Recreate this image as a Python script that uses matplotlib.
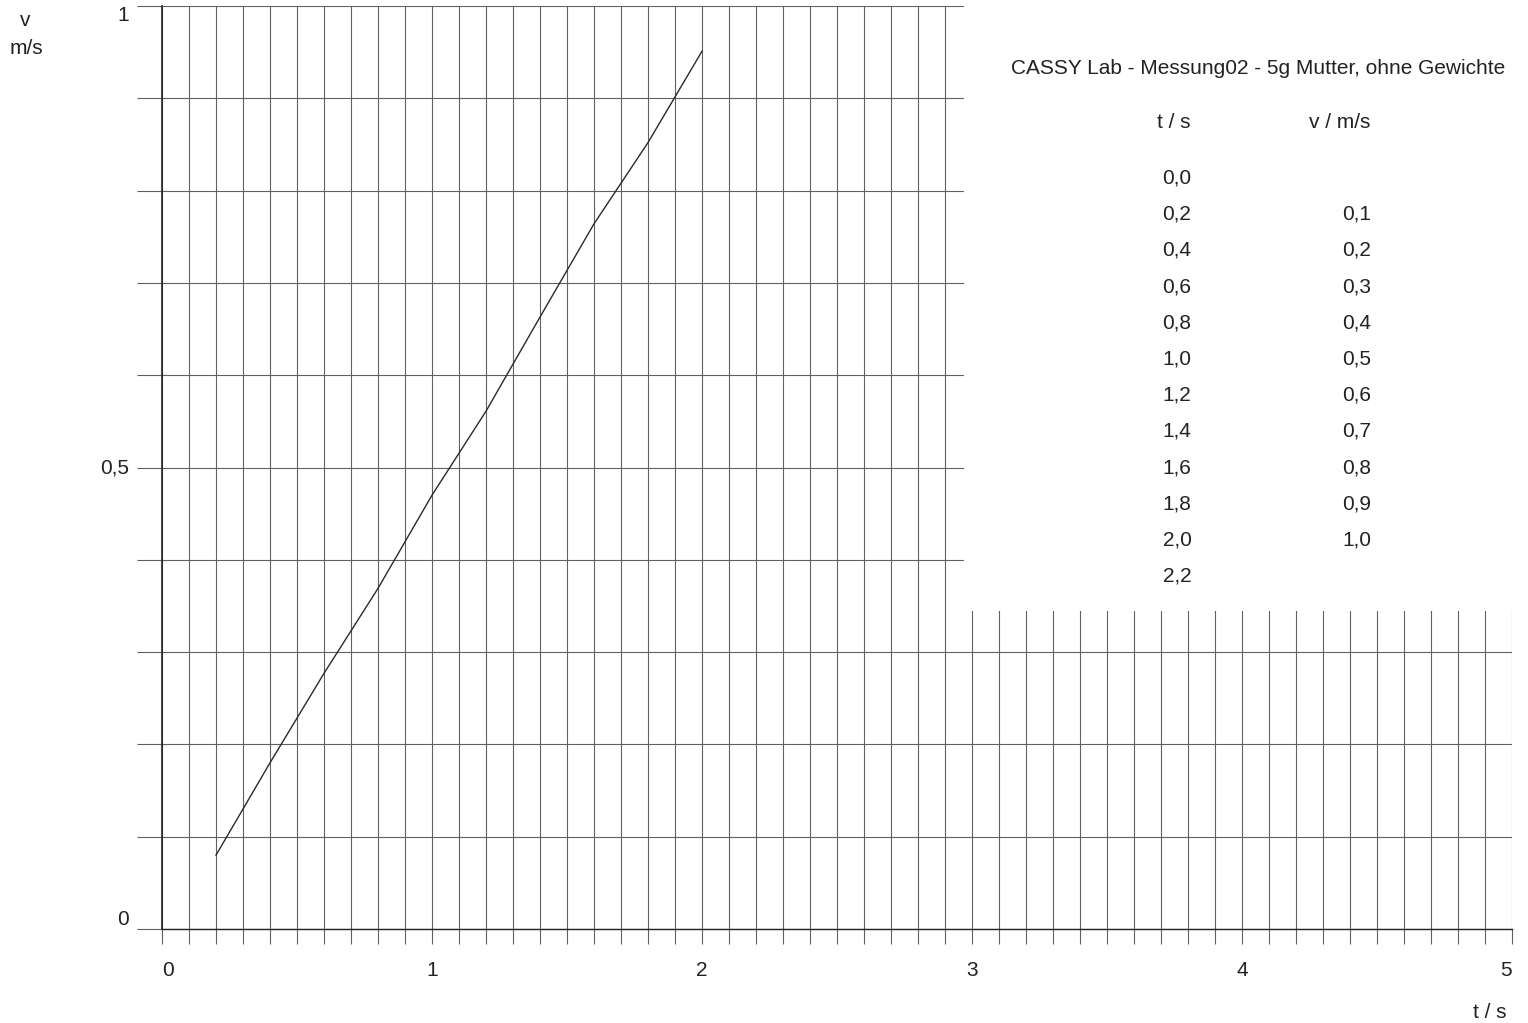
import matplotlib
matplotlib.use('Agg')
import matplotlib.pyplot as plt
import numpy as np
from matplotlib.patches import Rectangle

plt.rcParams['font.family'] = ['Liberation Sans', 'DejaVu Sans']

t = [0.2, 0.4, 0.6, 0.8, 1.0, 1.2, 1.4, 1.6, 1.8, 2.0]
v = [0.080, 0.180, 0.277, 0.369, 0.470, 0.561, 0.663, 0.764, 0.852, 0.951]

# table on the right: t column has two extra rows without v
t_table = [0.0, 0.2, 0.4, 0.6, 0.8, 1.0, 1.2, 1.4, 1.6, 1.8, 2.0, 2.2]
v_table = [None, 0.1, 0.2, 0.3, 0.4, 0.5, 0.6, 0.7, 0.8, 0.9, 1.0, None]

title = 'CASSY Lab - Messung02 - 5g Mutter, ohne Gewichte'
x_ticks = [0, 1, 2, 3, 4, 5]
y_ticks = [0, 0.5, 1]

W, H = 1528, 1023
ink = '#222222'
grid_col = '0.38'
fs = 15


def px(x, y):
	return x / W, 1 - y / H


def komma(val):
	return ('%.1f' % val).replace('.', ',')


fig = plt.figure(figsize=(W / 100, H / 100), dpi=100)
ax = fig.add_axes([162 / W, 1 - 929 / H, (1512 - 162) / W, (929 - 6) / H])

ax.set_xlim(0, 5)
ax.set_ylim(0, 1)

ax.set_xticks(x_ticks)
ax.set_xticklabels([str(x) for x in x_ticks])
ax.set_xticks(np.arange(0, 5.01, 0.1), minor=True)
ax.set_yticks(y_ticks)
ax.set_yticklabels(['0', '0,5', '1'])
ax.set_yticks(np.arange(0, 1.01, 0.1), minor=True)

ax.tick_params(axis='x', which='both', direction='out', length=11, width=0.8, color=grid_col,
               labelsize=fs, labelcolor=ink, pad=12)
ax.tick_params(axis='y', which='both', direction='out', length=18, width=0.8, color=grid_col,
               labelsize=fs, labelcolor=ink, pad=6)

for lbl, ha in zip(ax.get_xticklabels(), ['left', 'center', 'center', 'center', 'center', 'right']):
	lbl.set_ha(ha)
for lbl, va in zip(ax.get_yticklabels(), ['bottom', 'center', 'top']):
	lbl.set_va(va)

ax.grid(True, which='both', color=grid_col, linewidth=0.8)
ax.set_axisbelow(True)

for side in ['top', 'right']:
	ax.spines[side].set_visible(False)
ax.spines['left'].set_color(ink)
ax.spines['left'].set_linewidth(1.2)
ax.spines['bottom'].set_color(ink)
ax.spines['bottom'].set_linewidth(1.0)

# white area of the table covers the grid in the upper right
ax.add_patch(Rectangle((2.97, 0.345), 2.2, 0.7, facecolor='white', edgecolor='none',
                       zorder=1, clip_on=False))

ax.plot(t, v, color='#2a2a2a', linewidth=1.0, zorder=3)

# axis titles
fig.text(*px(25, 21), 'v', ha='center', va='center', fontsize=fs, color=ink)
fig.text(*px(26, 48), 'm/s', ha='center', va='center', fontsize=fs, color=ink)
fig.text(*px(1490, 1013), 't / s', ha='center', va='center', fontsize=fs, color=ink)

# table
fig.text(*px(1258, 69), title, ha='center', va='center', fontsize=fs, color=ink)
fig.text(*px(1174, 123), 't / s', ha='center', va='center', fontsize=fs, color=ink)
fig.text(*px(1340, 123), 'v / m/s', ha='center', va='center', fontsize=fs, color=ink)
for i, (tt, vv) in enumerate(zip(t_table, v_table)):
	y = 178 + i * 36.2
	fig.text(*px(1177, y), komma(tt), ha='center', va='center', fontsize=fs, color=ink)
	if vv is not None:
		fig.text(*px(1357, y), komma(vv), ha='center', va='center', fontsize=fs, color=ink)

fig.savefig('out.png', dpi=100)
